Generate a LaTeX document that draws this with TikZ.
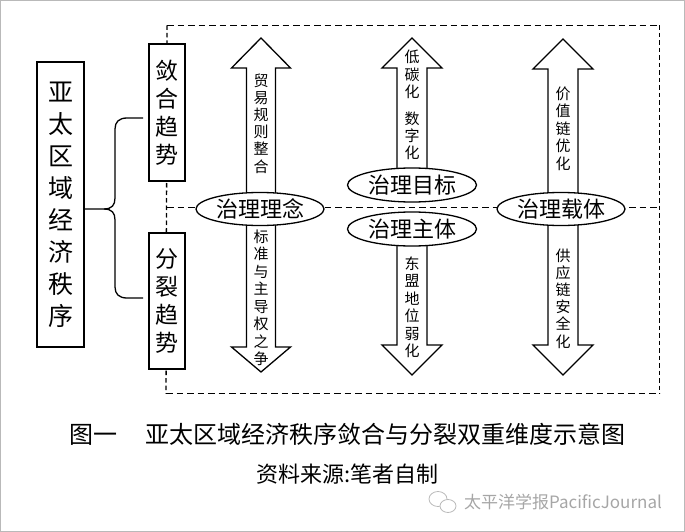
\documentclass[tikz,border=0pt]{standalone}
\usepackage{fontspec}
\setmainfont{Noto Sans CJK SC}
\usetikzlibrary{shapes.geometric}
\tikzset{
  dashh/.style={draw, line width=1.4pt, dash pattern=on 6.5pt off 4pt},
  dashv/.style={draw, line width=1.4pt, dash pattern=on 4.5pt off 3pt},
  tbox/.style={draw, fill=white, line width=1.3pt, inner sep=0pt, align=center},
  oval/.style={ellipse, draw, fill=white, line width=1.3pt, inner sep=0pt,
    minimum width=128pt, minimum height=33pt, font=\fontsize{22pt}{22pt}\selectfont},
  arrowshape/.style={draw, fill=white, line width=1.3pt, line join=miter},
  vtext/.style={align=center, inner sep=0pt, font=\fontsize{15pt}{17.2pt}\selectfont},
  bracepath/.style={draw, line width=1.3pt},
}
\begin{document}
\begin{tikzpicture}[x=1pt,y=-1pt]
\useasboundingbox (0,0) rectangle (685,532);
% outer light frame
\draw[gray!55, line width=0.8pt] (0.8,0.8) rectangle (684,531);
% dashed frame and middle line
\coordinate (fTL) at (167,25.5);
\coordinate (fTR) at (659.5,25.5);
\coordinate (fBL) at (166,393.5);
\coordinate (fBR) at (659.5,393.5);
\coordinate (mL) at (167,207.5);
\coordinate (mR) at (659.5,207.5);
\path[dashh] (fTL) -- (fTR);
\path[dashh] (fBL) -- (fBR);
\path[dashv] (fTL) -- (fBL);
\path[dashv] (fTR) -- (fBR);
\path[dashh] (mL) -- (mR);
% arrows
\path[arrowshape] (261,38) -- (290.5,68) -- (275.5,68) -- (275.5,347) -- (290.5,347) -- (261,372)
  -- (231.5,347) -- (246.5,347) -- (246.5,68) -- (231.5,68) -- cycle;
\path[arrowshape] (412,38) -- (442,68) -- (427,68) -- (427,185) -- (397,185) -- (397,68) -- (382,68) -- cycle;
\path[arrowshape] (427,229) -- (427,345) -- (442,345) -- (412,375) -- (382,345) -- (397,345) -- (397,229) -- cycle;
\path[arrowshape] (563,39) -- (593,69) -- (578,69) -- (578,345) -- (593,345) -- (563,375)
  -- (533,345) -- (548,345) -- (548,69) -- (533,69) -- cycle;
% ellipses
\node[oval] (e1) at (260,209) {治理理念};
\node[oval, minimum width=129pt, minimum height=34pt] (e2) at (412,185) {治理目标};
\node[oval, minimum width=129pt, minimum height=34pt] (e3) at (412,229) {治理主体};
\node[oval] (e4) at (561,209) {治理载体};
% arrow texts
\node[vtext] (t1a) at (261,123.5) {贸\\易\\规\\则\\整\\合};
\node[vtext, font=\fontsize{15pt}{17.5pt}\selectfont] (t1b) at (261,298) {标\\准\\与\\主\\导\\权\\之\\争};
\node[vtext] (t2a) at (412,74.5) {低\\碳\\化};
\node[vtext] (t2b) at (412,136) {数\\字\\化};
\node[vtext, font=\fontsize{15pt}{17.5pt}\selectfont] (t2c) at (412,307.5) {东\\盟\\地\\位\\弱\\化};
\node[vtext, font=\fontsize{15pt}{17.4pt}\selectfont] (t3a) at (563,128.5) {价\\值\\链\\优\\化};
\node[vtext] (t3b) at (563,298.5) {供\\应\\链\\安\\全\\化};
% left boxes
\node[tbox, minimum width=47pt, minimum height=285pt, font=\fontsize{25pt}{32pt}\selectfont]
  (order) at (60.5,204.5) {亚\\太\\区\\域\\经\\济\\秩\\序};
\node[tbox, minimum width=36pt, minimum height=137pt, font=\fontsize{23pt}{28pt}\selectfont]
  (conv) at (167,112.5) {敛\\合\\趋\\势};
\node[tbox, minimum width=36pt, minimum height=136pt, font=\fontsize{23pt}{28pt}\selectfont]
  (split) at (167,301) {分\\裂\\趋\\势};
% brace
\coordinate (bTop) at (143,118);
\coordinate (bBot) at (143,298);
\path[bracepath] (order.east |- 0,209) -- (104,209) .. controls (112,209) and (115,205) .. (115,198)
  -- (115,129) .. controls (115,122) and (119,118) .. (127,118) -- (bTop);
\path[bracepath] (104,209) .. controls (112,209) and (115,213) .. (115,220)
  -- (115,287) .. controls (115,294) and (119,298) .. (127,298) -- (bBot);
% captions
\node[inner sep=0pt, font=\fontsize{24pt}{24pt}\selectfont] (cap) at (347.5,434)
  {图一\hspace{28pt}亚太区域经济秩序敛合与分裂双重维度示意图};
\node[inner sep=0pt, font=\fontsize{22pt}{22pt}\selectfont] (src) at (347.5,474) {资料来源:笔者自制};
% watermark
\draw[gray!55, line width=0.8pt] (438,499) ellipse (9pt and 7.5pt);
\draw[gray!55, line width=0.8pt, fill=white] (448,506) ellipse (8pt and 6.5pt);
\node[inner sep=0pt, text=gray!70, font=\fontsize{17pt}{17pt}\selectfont] (wm) at (563,502) {太平洋学报PacificJournal};
\end{tikzpicture}
\end{document}
